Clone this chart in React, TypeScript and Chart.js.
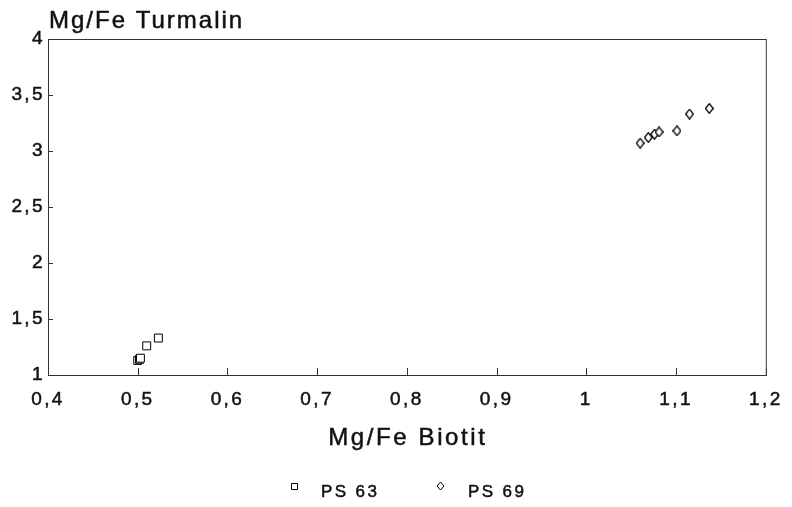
import React, { useEffect, useRef } from 'react';
import { Chart, registerables } from 'chart.js';

Chart.register(...registerables);

// ---- data ----
const seriesNames = ['PS 63', 'PS 69'];
const ps63X = [0.5, 0.502, 0.503, 0.51, 0.523];
const ps63Y = [1.13, 1.14, 1.15, 1.26, 1.33];
const ps69X = [1.06, 1.069, 1.076, 1.081, 1.101, 1.115, 1.137];
const ps69Y = [3.07, 3.12, 3.15, 3.17, 3.18, 3.33, 3.38];
const xRange = [0.4, 1.2];
const xStep = 0.1;
const yRange = [1, 4];
const yStep = 0.5;
const chartTitle = 'Mg/Fe Turmalin';
const xAxisTitle = 'Mg/Fe Biotit';

const FONT = '"Liberation Sans", Arial, Helvetica, sans-serif';
const INK = '#111';
const LINE = '#333';
const MARK = '#000';
const SPACING = '2.4px';

const fmt = (v: number) => String(Number(v.toFixed(2))).replace('.', ',');

function makeDiamond(w: number, h: number): HTMLCanvasElement {
  const c = document.createElement('canvas');
  c.width = w;
  c.height = h;
  const g = c.getContext('2d')!;
  g.fillStyle = '#fff';
  g.strokeStyle = MARK;
  g.lineWidth = 1.3;
  g.beginPath();
  g.moveTo(w / 2, 0.7);
  g.lineTo(w - 0.7, h / 2);
  g.lineTo(w / 2, h - 0.7);
  g.lineTo(0.7, h / 2);
  g.closePath();
  g.fill();
  g.stroke();
  return c;
}

function boldText(ctx: CanvasRenderingContext2D, text: string, x: number, y: number) {
  ctx.fillText(text, x, y);
  ctx.lineWidth = 0.5;
  ctx.strokeStyle = INK;
  ctx.strokeText(text, x, y);
}

const decorPlugin = {
  id: 'decor',
  beforeDraw(chart: any) {
    (chart.ctx as any).letterSpacing = SPACING;
  },
  afterDraw(chart: any) {
    const { ctx, chartArea: a, scales } = chart;
    ctx.save();
    ctx.strokeStyle = LINE;
    ctx.lineWidth = 1;
    ctx.strokeRect(a.left + 0.5, a.top + 0.5, a.right - a.left, a.bottom - a.top);
    ctx.beginPath();
    scales.x.ticks.forEach((t: any) => {
      const px = Math.round(scales.x.getPixelForValue(t.value)) + 0.5;
      ctx.moveTo(px, a.bottom);
      ctx.lineTo(px, a.bottom - 7);
    });
    scales.y.ticks.forEach((t: any) => {
      const py = Math.round(scales.y.getPixelForValue(t.value)) + 0.5;
      ctx.moveTo(a.left, py);
      ctx.lineTo(a.left + 5, py);
    });
    ctx.stroke();

    ctx.fillStyle = INK;
    ctx.font = `24px ${FONT}`;

    // chart title (y axis name) above the plot
    (ctx as any).letterSpacing = '2px';
    ctx.textAlign = 'left';
    ctx.textBaseline = 'alphabetic';
    boldText(ctx, chartTitle, a.left + 1, 28);

    // x axis title
    (ctx as any).letterSpacing = '2.6px';
    ctx.textAlign = 'center';
    boldText(ctx, xAxisTitle, (a.left + a.right) / 2 + 1, 445);

    // legend
    const startX = 290;
    const stride = 147;
    (ctx as any).letterSpacing = SPACING;
    ctx.textAlign = 'left';
    ctx.font = `17px ${FONT}`;
    chart.data.datasets.forEach((ds: any, i: number) => {
      const mx = startX + 3.5 + i * stride;
      const my = 486;
      ctx.strokeStyle = MARK;
      ctx.lineWidth = 1;
      ctx.fillStyle = '#fff';
      ctx.beginPath();
      if (ds.pointStyle === 'rect') {
        ctx.rect(Math.round(mx - 3) + 0.5, Math.round(my - 3) + 0.5, 6, 6);
      } else {
        ctx.moveTo(mx, my - 4);
        ctx.lineTo(mx + 3.5, my);
        ctx.lineTo(mx, my + 4);
        ctx.lineTo(mx - 3.5, my);
        ctx.closePath();
      }
      ctx.fill();
      ctx.stroke();
      ctx.fillStyle = INK;
      boldText(ctx, ds.label, startX + 31 + i * stride, 497);
    });
    ctx.restore();
  },
};

export default function App() {
  const ref = useRef<HTMLCanvasElement | null>(null);

  useEffect(() => {
    if (!ref.current) return;
    const diamond = makeDiamond(9, 11);
    const chart = new Chart(ref.current, {
      type: 'scatter',
      data: {
        datasets: [
          {
            label: seriesNames[0],
            data: ps63X.map((x, i) => ({ x, y: ps63Y[i] })),
            pointStyle: 'rect',
            pointRadius: 5.6,
            pointHoverRadius: 5.6,
            backgroundColor: '#fff',
            borderColor: MARK,
            borderWidth: 1,
          },
          {
            label: seriesNames[1],
            data: ps69X.map((x, i) => ({ x, y: ps69Y[i] })),
            pointStyle: diamond as any,
            pointRadius: 5,
            backgroundColor: '#fff',
            borderColor: MARK,
            borderWidth: 1,
          },
        ],
      },
      plugins: [decorPlugin],
      options: {
        animation: false,
        responsive: false,
        devicePixelRatio: 1,
        layout: { padding: { top: 39, right: 16, left: 0, bottom: 0 } },
        plugins: {
          legend: { display: false },
          title: { display: false },
          tooltip: { enabled: false },
        },
        scales: {
          x: {
            type: 'linear',
            min: xRange[0],
            max: xRange[1],
            grid: { display: false, drawTicks: false },
            border: { display: false },
            ticks: {
              stepSize: xStep,
              maxRotation: 0,
              autoSkip: false,
              padding: 13,
              color: INK,
              textStrokeColor: INK,
              textStrokeWidth: 0.5,
              font: { size: 19, family: FONT },
              callback: (v: any) => fmt(Number(v)),
            },
            afterFit: (s: any) => {
              s.height = 132;
            },
          },
          y: {
            type: 'linear',
            min: yRange[0],
            max: yRange[1],
            grid: { display: false, drawTicks: false },
            border: { display: false },
            ticks: {
              stepSize: yStep,
              padding: 3,
              color: INK,
              textStrokeColor: INK,
              textStrokeWidth: 0.5,
              font: { size: 19, family: FONT },
              callback: (v: any) => fmt(Number(v)),
            },
            afterFit: (s: any) => {
              s.width = 48;
            },
          },
        },
      },
    });
    return () => chart.destroy();
  }, []);

  return (
    <div style={{ position: 'absolute', left: 0, top: 0, width: 792, height: 507, background: '#fff' }}>
      <canvas ref={ref} width={792} height={507} style={{ display: 'block', width: 792, height: 507 }} />
    </div>
  );
}
